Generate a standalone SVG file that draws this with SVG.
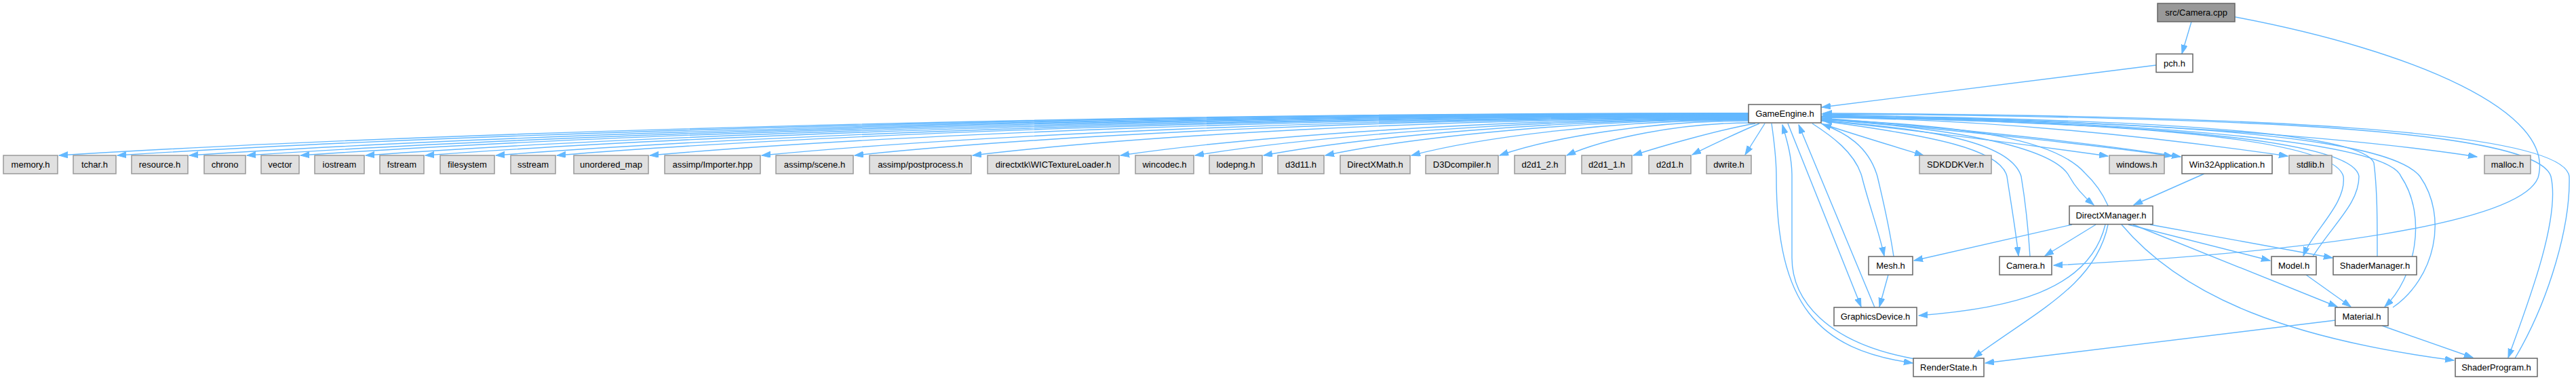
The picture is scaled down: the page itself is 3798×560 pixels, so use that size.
<svg xmlns="http://www.w3.org/2000/svg" width="3798" height="560" viewBox="0 0 3798 560">
<style>
.ext rect{fill:#e0e0e0;stroke:#999999;stroke-width:1.5}
.doc rect{fill:#ffffff;stroke:#666666;stroke-width:1.5}
.root rect{fill:#999999;stroke:#666666;stroke-width:1.5}
text{font-family:"Liberation Sans",Arial,Helvetica,sans-serif;font-size:13px;fill:#000000;text-anchor:middle}
#edges path{fill:none;stroke:#63b8ff;stroke-width:1.4;marker-end:url(#a)}
</style>
<defs>
<marker id="a" markerWidth="14" markerHeight="10" refX="13" refY="4.5" orient="auto" markerUnits="userSpaceOnUse"><path d="M0,0 L13,4.5 L0,9 z" fill="#63b8ff" stroke="#63b8ff" stroke-width="1"/></marker>
</defs>
<rect width="3798" height="560" fill="#ffffff"/>
<g id="edges">
<path d="M3231,32 L3217,79"/>
<path d="M3179,96 L2686,158"/>
<path d="M3295,25 C3560,75 3770,165 3742,262 C3715,330 3400,372 3028,391"/>
<path d="M2578,166.6 C1581.6,166.6 585.2,197.8 87,229"/>
<path d="M2578,167.2 C1616,167.2 654,198.1 173,229"/>
<path d="M2578,167.8 C1658.4,167.8 738.8,198.4 279,229"/>
<path d="M2578,168.4 C1692.4,168.4 806.8,198.7 364,229"/>
<path d="M2578,169 C1724,169 870,199 443,229"/>
<path d="M2578,169.6 C1762.4,169.6 946.8,199.3 539,229"/>
<path d="M2578,170.2 C1797.6,170.2 1017.2,199.6 627,229"/>
<path d="M2578,170.8 C1839.2,170.8 1100.4,199.9 731,229"/>
<path d="M2578,171.4 C1875.2,171.4 1172.4,200.2 821,229"/>
<path d="M2578,172 C1930,172 1282,200.5 958,229"/>
<path d="M2578,172.6 C1996,172.6 1414,200.8 1123,229"/>
<path d="M2578,173.2 C2050.8,173.2 1523.6,201.1 1260,229"/>
<path d="M2578,173.8 C2120.4,173.8 1662.8,201.4 1434,229"/>
<path d="M2578,174.4 C2207.6,174.4 1837.2,201.7 1652,229"/>
<path d="M2578,175 C2251.6,175 1925.2,202 1762,229"/>
<path d="M2578,175.6 C2292,175.6 2006,202.3 1863,229"/>
<path d="M2578,176.2 C2328.4,176.2 2078.8,202.6 1954,229"/>
<path d="M2578,176.8 C2379.2,176.8 2180.4,202.9 2081,229"/>
<path d="M2578,178 C2431,178 2284,203.5 2211,229"/>
<path d="M2582,181 C2473,181 2364,205 2310,229"/>
<path d="M2588,182 C2540,190 2450,215 2408,229"/>
<path d="M2594,182 C2570,192 2520,215 2495,228"/>
<path d="M2602,182 L2573,228"/>
<path d="M2685,182 C2740,200 2790,215 2836,229"/>
<path d="M2685,177 C2850,195 3000,215 3108,230"/>
<path d="M2685,175 C2900,193 3100,215 3203,230"/>
<path d="M2685,174 C2900,190 3100,213 3215,231"/>
<path d="M2685,173 C2950,176 3200,205 3373,230"/>
<path d="M2685,172 C3100,175 3450,200 3652,231"/>
<path d="M2612,182 C2616,210 2619,240 2619,260 C2619,450 2680,515 2820,535"/>
<path d="M2823,529 C2690,505 2642,440 2642,380 L2642,260 C2642,230 2634,205 2628,184"/>
<path d="M2636,182 L2744,452"/>
<path d="M2764,453 L2652,184"/>
<path d="M2672,182 C2700,200 2735,225 2745,260 C2755,300 2770,340 2778,377"/>
<path d="M2792,378 C2785,330 2775,290 2768,260 C2755,215 2720,195 2687,183"/>
<path d="M2685,178 C2850,200 2950,220 2959,260 C2965,300 2972,340 2976,377"/>
<path d="M2993,378 C2990,330 2985,290 2980,260 C2965,210 2850,190 2688,178"/>
<path d="M2685,176 C2900,190 3030,220 3051,260 C3062,280 3075,292 3087,302"/>
<path d="M3108,303 C3100,285 3090,270 3074,255 C3030,205 2900,185 2688,176"/>
<path d="M3250,256 L3146,302"/>
<path d="M2685,172 C3100,180 3440,200 3455,260 C3460,300 3410,340 3396,377"/>
<path d="M3410,378 C3440,330 3478,300 3478,260 C3470,200 3100,180 2688,172"/>
<path d="M3505,378 C3505,320 3505,280 3500,240 C3480,190 3100,175 2688,170"/>
<path d="M2685,171 C3200,180 3520,210 3540,260 C3580,320 3560,410 3516,452"/>
<path d="M3528,453 C3590,410 3610,320 3568,260 C3520,200 3200,180 2688,169"/>
<path d="M2685,168 C3300,172 3740,190 3761,260 C3775,320 3730,440 3698,527"/>
<path d="M3708,528 C3760,440 3790,330 3788,260 C3780,190 3300,170 2688,167"/>
<path d="M3055,331 L2822,384"/>
<path d="M3090,331 L3015,377"/>
<path d="M3104,331 C3080,430 2960,455 2829,465"/>
<path d="M3108,331 C3090,420 3000,460 2910,527"/>
<path d="M3138,331 L3347,384"/>
<path d="M3170,331 L3439,380"/>
<path d="M3145,331 L3446,452"/>
<path d="M3128,331 C3220,440 3380,500 3618,531"/>
<path d="M2784,405 L2771,452"/>
<path d="M3400,405 L3466,452"/>
<path d="M3443,472 L2927,535"/>
<path d="M3512,480 L3646,527"/>
</g>
<g id="n_root" class="root"><rect x="3181" y="5" width="114" height="27"/><text x="3238" y="23">src/Camera.cpp</text></g>
<g id="n_pch" class="doc"><rect x="3179" y="79.5" width="54" height="27"/><text x="3206" y="97.5">pch.h</text></g>
<g id="n_GameEngine" class="doc"><rect x="2578" y="154" width="107" height="27"/><text x="2631.5" y="172">GameEngine.h</text></g>
<g id="n_memory" class="ext"><rect x="5" y="229" width="80" height="27"/><text x="45" y="247">memory.h</text></g>
<g id="n_tchar" class="ext"><rect x="108" y="229" width="63" height="27"/><text x="139.5" y="247">tchar.h</text></g>
<g id="n_resource" class="ext"><rect x="194" y="229" width="83" height="27"/><text x="235.5" y="247">resource.h</text></g>
<g id="n_chrono" class="ext"><rect x="301" y="229" width="61" height="27"/><text x="331.5" y="247">chrono</text></g>
<g id="n_vector" class="ext"><rect x="385" y="229" width="56" height="27"/><text x="413" y="247">vector</text></g>
<g id="n_iostream" class="ext"><rect x="464" y="229" width="73" height="27"/><text x="500.5" y="247">iostream</text></g>
<g id="n_fstream" class="ext"><rect x="560" y="229" width="65" height="27"/><text x="592.5" y="247">fstream</text></g>
<g id="n_filesystem" class="ext"><rect x="649" y="229" width="80" height="27"/><text x="689" y="247">filesystem</text></g>
<g id="n_sstream" class="ext"><rect x="753" y="229" width="66" height="27"/><text x="786" y="247">sstream</text></g>
<g id="n_unordered_map" class="ext"><rect x="846" y="229" width="110" height="27"/><text x="901" y="247">unordered_map</text></g>
<g id="n_importer" class="ext"><rect x="980" y="229" width="141" height="27"/><text x="1050.5" y="247">assimp/Importer.hpp</text></g>
<g id="n_scene" class="ext"><rect x="1144" y="229" width="114" height="27"/><text x="1201" y="247">assimp/scene.h</text></g>
<g id="n_postprocess" class="ext"><rect x="1282" y="229" width="150" height="27"/><text x="1357" y="247">assimp/postprocess.h</text></g>
<g id="n_wic" class="ext"><rect x="1456" y="229" width="194" height="27"/><text x="1553" y="247">directxtk\WICTextureLoader.h</text></g>
<g id="n_wincodec" class="ext"><rect x="1674" y="229" width="86" height="27"/><text x="1717" y="247">wincodec.h</text></g>
<g id="n_lodepng" class="ext"><rect x="1783" y="229" width="78" height="27"/><text x="1822" y="247">lodepng.h</text></g>
<g id="n_d3d11" class="ext"><rect x="1884" y="229" width="68" height="27"/><text x="1918" y="247">d3d11.h</text></g>
<g id="n_directxmath" class="ext"><rect x="1976" y="229" width="103" height="27"/><text x="2027.5" y="247">DirectXMath.h</text></g>
<g id="n_d3dcompiler" class="ext"><rect x="2102" y="229" width="107" height="27"/><text x="2155.5" y="247">D3Dcompiler.h</text></g>
<g id="n_d2d1_2" class="ext"><rect x="2233" y="229" width="75" height="27"/><text x="2270.5" y="247">d2d1_2.h</text></g>
<g id="n_d2d1_1" class="ext"><rect x="2332" y="229" width="74" height="27"/><text x="2369" y="247">d2d1_1.h</text></g>
<g id="n_d2d1" class="ext"><rect x="2431" y="229" width="62" height="27"/><text x="2462" y="247">d2d1.h</text></g>
<g id="n_dwrite" class="ext"><rect x="2516" y="229" width="66" height="27"/><text x="2549" y="247">dwrite.h</text></g>
<g id="n_sdkddkver" class="ext"><rect x="2830" y="229" width="106" height="27"/><text x="2883" y="247">SDKDDKVer.h</text></g>
<g id="n_windows" class="ext"><rect x="3110" y="229" width="81" height="27"/><text x="3150.5" y="247">windows.h</text></g>
<g id="n_win32app" class="doc"><rect x="3217" y="229" width="133" height="27"/><text x="3283.5" y="247">Win32Application.h</text></g>
<g id="n_stdlib" class="ext"><rect x="3375" y="229" width="63" height="27"/><text x="3406.5" y="247">stdlib.h</text></g>
<g id="n_malloc" class="ext"><rect x="3663" y="229" width="68" height="27"/><text x="3697" y="247">malloc.h</text></g>
<g id="n_dxmanager" class="doc"><rect x="3051" y="303.5" width="123" height="27"/><text x="3112.5" y="321.5">DirectXManager.h</text></g>
<g id="n_mesh" class="doc"><rect x="2755" y="378" width="65" height="27"/><text x="2787.5" y="396">Mesh.h</text></g>
<g id="n_camera" class="doc"><rect x="2948" y="378" width="77" height="27"/><text x="2986.5" y="396">Camera.h</text></g>
<g id="n_model" class="doc"><rect x="3349" y="378" width="66" height="27"/><text x="3382" y="396">Model.h</text></g>
<g id="n_shadermanager" class="doc"><rect x="3440" y="378" width="123" height="27"/><text x="3501.5" y="396">ShaderManager.h</text></g>
<g id="n_graphicsdevice" class="doc"><rect x="2704" y="453" width="122" height="27"/><text x="2765" y="471">GraphicsDevice.h</text></g>
<g id="n_material" class="doc"><rect x="3443" y="453" width="78" height="27"/><text x="3482" y="471">Material.h</text></g>
<g id="n_renderstate" class="doc"><rect x="2821" y="528" width="104" height="27"/><text x="2873" y="546">RenderState.h</text></g>
<g id="n_shaderprogram" class="doc"><rect x="3620" y="528" width="121" height="27"/><text x="3680.5" y="546">ShaderProgram.h</text></g>
</svg>
